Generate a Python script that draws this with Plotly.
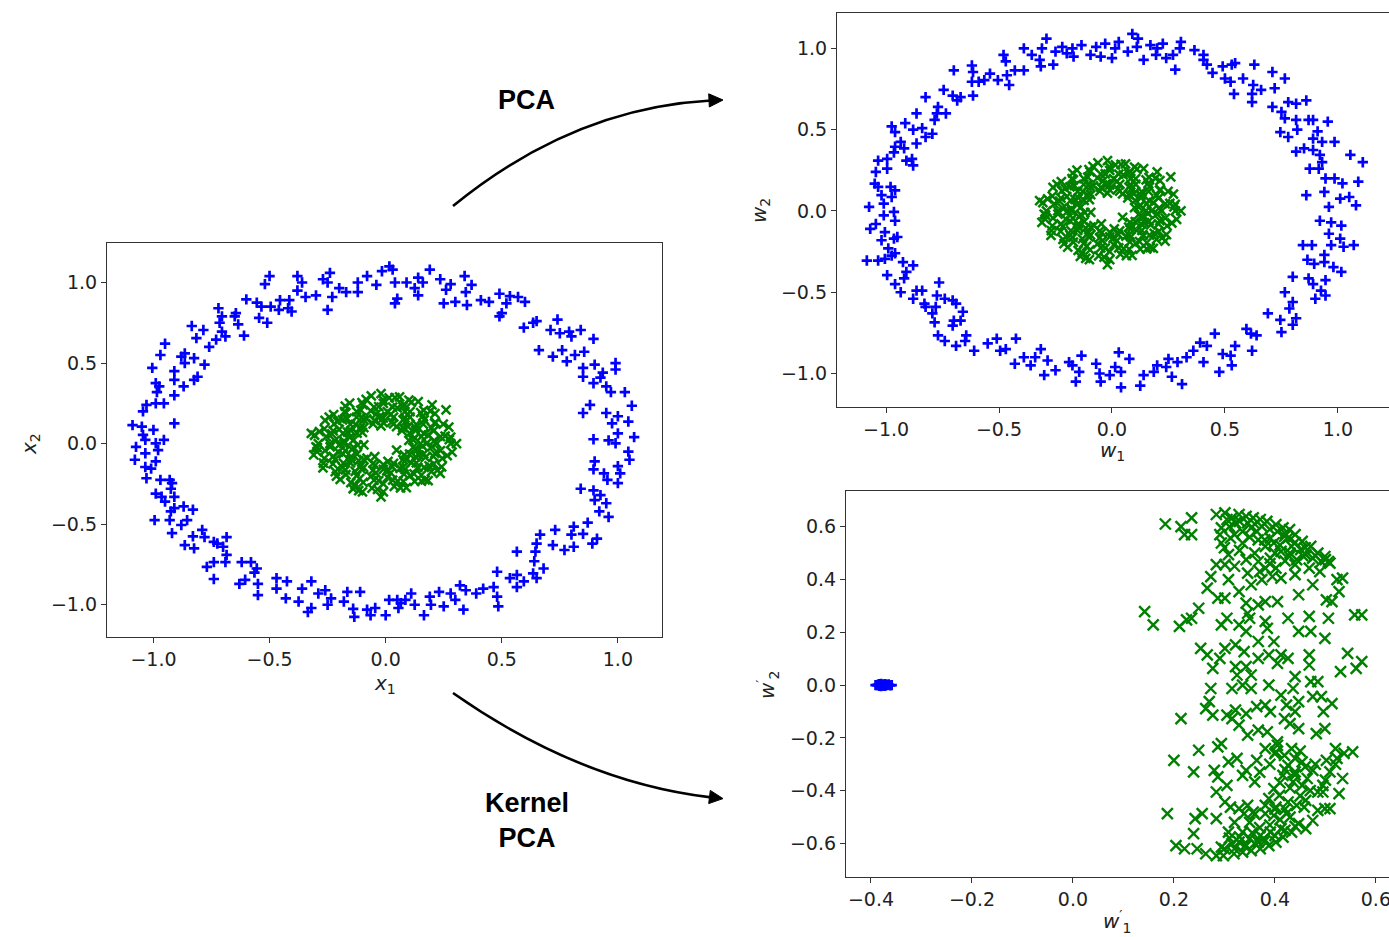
import plotly.graph_objects as go

# ---------------- data ----------------
# Input space: outer circle (blue +)
input_outer = [
(-0.50,1.04),(-0.38,1.04),(-0.52,0.99),(-0.36,1.0),(-0.38,0.95),(-0.27,1.02),(-0.24,1.06),(-0.25,1.0),
(-0.20,0.965),(-0.17,0.94),(-0.345,0.91),(-0.30,0.92),(-0.23,0.91),(-0.25,0.83),(-0.12,1.0),(-0.08,1.04),
(-0.12,0.94),(-0.04,0.985),(-0.016,1.07),(0.016,1.10),(0.03,1.08),(0.04,1.0),(0.05,0.90),(0.04,0.87),
(0.09,1.0),(0.14,1.03),(0.125,0.965),(0.16,1.0),(0.19,1.08),(0.14,0.92),(0.235,1.02),(0.26,0.955),
(0.28,0.99),(0.34,1.04),(0.37,0.985),(0.30,0.88),(0.25,0.87),(0.35,0.86),(0.345,0.94),(0.41,0.89),
(0.445,0.88),(0.49,0.93),(0.535,0.915),(0.57,0.91),(0.52,0.87),(0.49,0.79),(0.50,0.81),(0.60,0.88),
(0.595,0.72),(0.635,0.75),(0.65,0.76),(0.71,0.705),(0.74,0.77),(0.75,0.685),(0.79,0.695),(0.84,0.705),
(0.80,0.665),(0.66,0.58),(0.72,0.54),(0.76,0.58),(0.815,0.55),(0.855,0.57),(0.895,0.65),(0.78,0.51),
(0.85,0.47),(0.85,0.415),(0.90,0.49),(0.935,0.44),(0.99,0.50),(0.99,0.46),(0.925,0.41),(0.895,0.375),
(0.95,0.355),(0.97,0.32),(1.03,0.32),(0.88,0.24),(0.85,0.19),(0.95,0.19),(1.0,0.17),(1.06,0.235),
(1.045,0.137),(0.975,0.126),(1.0,0.064),(0.96,0.02),(0.895,0.027),(0.99,0.002),(1.07,0.04),(1.045,-0.05),
(1.05,-0.10),(0.90,-0.11),(0.895,-0.16),(0.94,-0.185),(1.0,-0.14),(1.01,-0.185),(1.0,-0.245),(0.955,-0.225),
(0.84,-0.28),(0.895,-0.29),(0.925,-0.32),(0.90,-0.35),(0.95,-0.37),(0.96,-0.455),(0.92,-0.42),(0.87,-0.49),
(0.85,-0.56),(0.91,-0.59),(0.89,-0.62),(0.81,-0.515),(0.80,-0.565),(0.81,-0.64),(0.73,-0.535),(0.72,-0.63),
(0.77,-0.66),(0.665,-0.565),(0.65,-0.62),(0.645,-0.67),(0.565,-0.67),(0.64,-0.73),(0.68,-0.775),(0.635,-0.805),
(0.65,-0.835),(0.565,-0.815),(0.535,-0.835),(0.595,-0.855),(0.48,-0.795),(0.565,-0.89),(0.465,-0.89),(0.48,-0.95),
(0.485,-1.01),(0.42,-0.90),(0.39,-0.93),(0.345,-0.91),(0.32,-0.88),(0.30,-0.97),(0.28,-0.93),(0.335,-1.03),
(0.25,-1.01),(0.23,-0.92),(0.19,-0.95),(0.195,-1.0),(0.165,-1.065),(0.125,-1.0),(0.11,-0.93),(0.085,-0.97),
(0.065,-0.99),(0.05,-0.97),(0.015,-0.97),(0.055,-1.02),(0.0,-1.065),(-0.045,-1.02),(-0.08,-1.03),(-0.065,-1.065),
(-0.135,-1.075),(-0.14,-1.025),(-0.11,-0.92),(-0.165,-0.92),(-0.18,-0.98),(-0.235,-0.96),(-0.26,-0.91),(-0.29,-0.93),
(-0.25,-1.0),(-0.32,-1.02),(-0.335,-1.045),(-0.32,-0.855),(-0.36,-0.90),(-0.375,-0.98),(-0.43,-0.96),(-0.47,-0.90),
(-0.425,-0.855),(-0.47,-0.835),(-0.55,-0.94),(-0.55,-0.87),(-0.605,-0.845),(-0.63,-0.87),(-0.565,-0.80),(-0.555,-0.775),
(-0.58,-0.735),(-0.62,-0.735),(-0.69,-0.735),(-0.74,-0.84),(-0.77,-0.765),(-0.74,-0.735),(-0.685,-0.69),(-0.70,-0.64),
(-0.74,-0.61),(-0.78,-0.58),(-0.725,-0.62),(-0.685,-0.58),(-0.79,-0.535),(-0.825,-0.65),(-0.865,-0.63),(-0.83,-0.575),
(-0.92,-0.555),(-0.88,-0.505),(-0.855,-0.475),(-0.83,-0.41),(-0.87,-0.39),(-0.91,-0.40),(-0.93,-0.475),(-0.995,-0.475),
(-0.925,-0.42),(-0.95,-0.36),(-0.965,-0.33),(-0.91,-0.33),(-0.925,-0.28),(-0.99,-0.31),(-0.92,-0.245),(-0.93,-0.225),
(-0.97,-0.225),(-1.03,-0.215),(-1.01,-0.155),(-0.99,-0.11),(-1.035,-0.145),(-1.08,-0.10),(-1.035,-0.06),(-0.98,-0.04),
(-0.955,0.023),(-0.99,0.002),(-1.035,0.023),(-1.045,0.054),(-1.075,-0.02),(-1.05,0.105),(-1.09,0.115),(-1.0,0.085),
(-0.91,0.126),(-1.045,0.20),(-1.03,0.24),(-0.99,0.25),(-0.955,0.25),(-1.005,0.47),(-0.99,0.375),(-0.975,0.355),
(-0.985,0.32),(-0.91,0.45),(-0.91,0.395),(-0.87,0.355),(-0.91,0.30),(-0.865,0.56),(-0.88,0.54),(-0.865,0.50),
(-0.825,0.53),(-0.78,0.49),(-0.825,0.395),(-0.81,0.415),(-0.97,0.55),(-0.95,0.62),(-0.835,0.73),(-0.815,0.655),
(-0.785,0.705),(-0.76,0.60),(-0.73,0.645),(-0.705,0.695),(-0.69,0.665),(-0.715,0.75),(-0.72,0.84),(-0.705,0.79),
(-0.645,0.81),(-0.65,0.79),(-0.635,0.74),(-0.61,0.67),(-0.60,0.895),(-0.555,0.875),(-0.545,0.78),(-0.51,0.75),
(-0.535,0.85),(-0.495,0.85),(-0.455,0.89),(-0.42,0.84),(-0.405,0.82),(-0.46,0.83),(-0.415,0.89),
]

# Input space: inner circle (green x) - dense annulus
input_inner = [
(0.28,0.00),(0.256,0.047),(0.272,0.103),(0.215,0.13),(0.212,0.186),(0.164,0.207),(0.14,0.26),(0.079,0.244),
(0.04,0.286),(-0.01,0.27),(-0.062,0.296),(-0.102,0.254),(-0.155,0.251),(-0.177,0.199),(-0.224,0.18),(-0.261,0.145),
(-0.264,0.092),(-0.306,0.052),(-0.29,0.0),(-0.296,-0.05),(-0.264,-0.092),(-0.27,-0.15),(-0.217,-0.174),(-0.196,-0.222),
(-0.15,-0.242),(-0.116,-0.291),(-0.059,-0.276),(-0.01,-0.30),(0.037,-0.266),(0.089,-0.273),(0.125,-0.234),(0.183,-0.23),
(0.197,-0.174),(0.241,-0.145),(0.244,-0.092),(0.286,-0.052),
(0.209,0.019),(0.183,0.052),(0.198,0.097),(0.162,0.121),(0.16,0.17),(0.105,0.164),(0.083,0.199),(0.05,0.222),
(0.007,0.199),(-0.03,0.229),(-0.064,0.203),(-0.107,0.208),(-0.125,0.164),(-0.166,0.156),(-0.207,0.138),(-0.2,0.089),
(-0.232,0.06),(-0.219,0.018),(-0.239,-0.02),(-0.203,-0.052),(-0.218,-0.097),(-0.182,-0.121),(-0.173,-0.163),(-0.131,-0.172),
(-0.112,-0.217),(-0.064,-0.203),(-0.03,-0.229),(0.008,-0.209),(0.052,-0.232),(0.079,-0.19),(0.122,-0.188),(0.138,-0.148),
(0.187,-0.138),(0.171,-0.085),(0.212,-0.06),(0.199,-0.018),
(0.15,0.0),(0.125,0.036),(0.129,0.08),(0.096,0.106),(0.075,0.147),(0.026,0.135),(-0.01,0.16),(-0.049,0.145),
(-0.095,0.147),(-0.109,0.099),(-0.149,0.08),(-0.155,0.039),(-0.18,0.0),(-0.145,-0.036),(-0.149,-0.08),(-0.116,-0.106),
(-0.095,-0.147),(-0.046,-0.135),(-0.01,-0.16),(0.029,-0.145),(0.075,-0.147),(0.089,-0.099),(0.129,-0.08),(0.135,-0.039),
(0.10,0.02),(0.07,0.08),(-0.02,0.11),(-0.10,0.07),(-0.12,-0.01),(-0.08,-0.09),(0.01,-0.11),(0.08,-0.07),
(-0.094,-0.008),(0.047,-0.04),(-0.047,-0.08),(0.047,0.105),
(0.236,0.044),(0.211,0.128),(0.151,0.192),(0.074,0.23),(-0.01,0.25),(-0.097,0.24),(-0.171,0.192),(-0.222,0.123),
(-0.256,0.044),(-0.261,-0.044),(-0.227,-0.125),(-0.171,-0.192),(-0.097,-0.24),(-0.01,-0.25),(0.076,-0.235),(0.154,-0.195),
(0.207,-0.125),(0.236,-0.044),
(0.175,0.0),(0.164,0.063),(0.132,0.119),(0.083,0.16),(0.022,0.182),(-0.042,0.182),(-0.103,0.16),(-0.152,0.119),
(-0.184,0.063),(-0.195,0.0),(-0.184,-0.063),(-0.152,-0.119),(-0.103,-0.16),(-0.042,-0.182),(0.022,-0.182),(0.083,-0.16),
(0.132,-0.119),(0.164,-0.063),
(0.118,0.023),(0.103,0.065),(0.074,0.10),(0.034,0.122),(-0.01,0.13),(-0.054,0.122),(-0.094,0.10),(-0.123,0.065),
(-0.138,0.023),(-0.138,-0.023),(-0.123,-0.065),(-0.094,-0.10),(-0.054,-0.122),(-0.01,-0.13),(0.034,-0.122),(0.074,-0.10),
(0.103,-0.065),(0.118,-0.023),
(0.22,0.0),(0.206,0.079),(0.166,0.148),(0.105,0.199),(0.03,0.227),(-0.05,0.227),(-0.125,0.199),(-0.186,0.148),
(-0.226,0.079),(-0.24,0.0),(-0.226,-0.079),(-0.186,-0.148),(-0.125,-0.199),(-0.05,-0.227),(0.03,-0.227),(0.105,-0.199),
(0.166,-0.148),(0.206,-0.079),
(0.274,0.025),(0.248,0.121),(0.192,0.201),(0.111,0.258),(0.015,0.284),(-0.084,0.275),(-0.174,0.233),(-0.243,0.164),
(-0.285,0.074),(-0.294,-0.025),(-0.268,-0.121),(-0.212,-0.201),(-0.131,-0.258),(-0.035,-0.284),(0.064,-0.275),(0.154,-0.233),
(0.223,-0.164),(0.265,-0.074),
(0.154,0.044),(0.129,0.098),(0.088,0.139),(0.034,0.164),(-0.025,0.169),(-0.082,0.154),(-0.13,0.12),(-0.164,0.072),
(-0.179,0.015),(-0.174,-0.044),(-0.149,-0.098),(-0.108,-0.139),(-0.054,-0.164),(0.005,-0.169),(0.062,-0.154),(0.11,-0.12),
(0.144,-0.072),(0.159,-0.015),
(-0.32,0.064),(-0.30,-0.02),(-0.31,-0.07),(0.26,0.21),(-0.02,0.31),(0.06,0.29),(-0.02,-0.33),(-0.14,-0.28),
(0.235,-0.185),(0.17,-0.225),(0.305,0.0),(0.28,0.04),(0.10,0.27),(-0.10,-0.30),(0.20,0.24),
]

# PCA projection: outer circle (blue +)
pca_outer = [
(-0.29,1.06),(-0.31,1.0),(-0.39,1.0),(-0.355,0.96),(-0.32,0.93),(-0.315,0.89),(-0.26,0.90),(-0.25,0.98),
(-0.22,1.01),(-0.20,0.97),(-0.17,0.95),(-0.175,1.0),(-0.135,1.02),(-0.095,0.96),(-0.07,1.01),(-0.05,0.95),
(-0.03,1.03),(0.0,0.94),(0.014,1.0),(0.03,1.04),(0.07,0.98),(0.09,1.09),(0.115,1.06),(0.11,1.01),
(0.14,0.93),(0.17,1.02),(0.20,1.0),(0.225,1.03),(0.195,0.96),(0.24,0.94),(0.27,0.96),(0.28,0.87),
(0.305,1.04),(0.30,1.0),(0.365,0.99),(0.405,0.96),(0.42,0.90),(0.405,0.93),(0.445,0.85),(0.49,0.89),
(0.53,0.90),(0.545,0.91),(0.50,0.815),(0.525,0.795),(0.54,0.72),(0.58,0.815),(0.63,0.90),(0.625,0.775),
(0.62,0.72),(0.62,0.67),(0.66,0.745),(0.71,0.855),(0.72,0.755),(0.765,0.815),(0.71,0.64),(0.75,0.61),
(0.78,0.67),(0.815,0.66),(0.86,0.68),(0.745,0.485),(0.78,0.455),(0.765,0.57),(0.82,0.50),(0.815,0.56),
(0.87,0.56),(0.89,0.56),(0.955,0.55),(0.91,0.49),(0.89,0.445),(0.93,0.425),(0.985,0.425),(0.815,0.365),
(0.85,0.385),(0.89,0.375),(0.92,0.345),(0.93,0.30),(1.055,0.345),(1.11,0.30),(0.875,0.26),(0.915,0.26),
(0.945,0.20),(0.985,0.20),(1.02,0.17),(1.09,0.18),(0.86,0.097),(0.94,0.117),(1.01,0.076),(1.05,0.086),
(1.08,0.035),(0.96,0.025),(0.92,-0.06),(0.97,-0.07),(1.015,-0.09),(0.96,-0.14),(1.01,-0.17),(0.845,-0.21),
(0.885,-0.21),(0.97,-0.21),(1.025,-0.22),(1.07,-0.21),(0.865,-0.30),(0.895,-0.325),(0.94,-0.315),(0.98,-0.345),
(1.015,-0.375),(0.94,-0.27),(0.80,-0.405),(0.87,-0.415),(0.89,-0.45),(0.945,-0.425),(0.925,-0.49),(0.945,-0.52),
(0.90,-0.54),(0.765,-0.50),(0.80,-0.56),(0.785,-0.60),(0.815,-0.66),(0.69,-0.63),(0.745,-0.67),(0.80,-0.70),
(0.75,-0.745),(0.595,-0.725),(0.615,-0.755),(0.64,-0.765),(0.62,-0.86),(0.545,-0.83),(0.525,-0.89),(0.49,-0.88),
(0.53,-0.95),(0.475,-0.99),(0.455,-0.755),(0.42,-0.83),(0.39,-0.81),(0.405,-0.93),(0.36,-0.86),(0.33,-0.90),
(0.31,-1.065),(0.29,-0.93),(0.25,-0.91),(0.24,-0.96),(0.265,-1.02),(0.20,-0.95),(0.185,-0.99),(0.14,-1.01),
(0.125,-1.075),(0.077,-0.91),(0.03,-0.87),(0.04,-0.99),(0.04,-1.085),(0.014,-0.96),(-0.01,-1.01),(-0.05,-1.05),
(-0.07,-0.94),(-0.055,-1.0),(-0.135,-0.89),(-0.16,-1.05),(-0.145,-0.99),(-0.175,-0.95),(-0.19,-0.93),(-0.25,-0.98),
(-0.285,-0.92),(-0.30,-1.01),(-0.315,-0.85),(-0.34,-0.90),(-0.39,-0.90),(-0.43,-0.94),(-0.36,-0.95),(-0.425,-0.785),
(-0.47,-0.85),(-0.51,-0.785),(-0.495,-0.86),(-0.55,-0.815),(-0.61,-0.86),(-0.645,-0.765),(-0.69,-0.83),(-0.65,-0.80),
(-0.74,-0.80),(-0.77,-0.765),(-0.705,-0.705),(-0.67,-0.675),(-0.70,-0.675),(-0.66,-0.62),(-0.785,-0.685),(-0.795,-0.63),
(-0.78,-0.59),(-0.825,-0.59),(-0.83,-0.57),(-0.765,-0.44),(-0.775,-0.52),(-0.74,-0.54),(-0.705,-0.55),(-0.69,-0.57),
(-0.88,-0.54),(-0.865,-0.49),(-0.84,-0.49),(-0.935,-0.50),(-0.96,-0.45),(-0.92,-0.415),(-0.91,-0.375),(-0.88,-0.335),
(-0.925,-0.315),(-0.995,-0.395),(-0.975,-0.275),(-1.005,-0.295),(-1.085,-0.305),(-1.035,-0.305),(-0.96,-0.26),(-0.99,-0.23),
(-1.02,-0.18),(-0.965,-0.17),(-0.95,-0.16),(-1.005,-0.13),(-1.07,-0.11),(-1.045,-0.08),(-0.96,-0.06),(-1.01,-0.027),
(-1.075,0.025),(-0.965,-0.006),(-1.01,0.045),(-0.975,0.086),(-1.02,0.097),(-0.96,0.127),(-1.035,0.148),(-0.98,0.148),
(-1.05,0.168),(-1.045,0.24),(-0.995,0.26),(-1.035,0.31),(-0.995,0.32),(-0.88,0.28),(-0.91,0.31),(-0.885,0.32),
(-0.965,0.36),(-0.96,0.395),(-0.935,0.425),(-0.92,0.385),(-0.975,0.52),(-0.96,0.485),(-0.915,0.54),(-0.88,0.50),
(-0.865,0.415),(-0.84,0.51),(-0.795,0.475),(-0.825,0.455),(-0.865,0.60),(-0.785,0.56),(-0.775,0.60),(-0.735,0.60),
(-0.77,0.64),(-0.825,0.70),(-0.745,0.745),(-0.705,0.71),(-0.685,0.68),(-0.67,0.70),(-0.70,0.865),(-0.62,0.895),
(-0.615,0.855),(-0.62,0.795),(-0.615,0.71),(-0.59,0.795),(-0.565,0.805),(-0.54,0.845),(-0.505,0.805),(-0.48,0.96),
(-0.47,0.92),(-0.465,0.835),(-0.455,0.775),(-0.43,0.865),(-0.39,0.865),
]
# PCA projection of the inner circle: a rotation of the same blob
pca_inner = input_inner

# Kernel PCA projection: outer circle collapses to a tight blob (blue +)
kpca_outer = [
(-0.391,0.0),(-0.388,0.0),(-0.386,0.001),(-0.384,0.003),(-0.384,-0.003),(-0.382,-0.001),(-0.380,0.004),(-0.380,-0.004),
(-0.378,0.0),(-0.376,0.002),(-0.376,-0.002),(-0.374,-0.001),(-0.372,0.003),(-0.372,-0.003),(-0.370,0.001),(-0.368,0.0),
(-0.365,0.002),(-0.362,-0.001),(-0.359,0.0),
]
# Kernel PCA projection: inner circle (green x)
kpca_inner = [
(0.183,0.61),(0.214,0.60),(0.235,0.633),(0.221,0.57),(0.235,0.57),(0.284,0.646),(0.301,0.652),(0.315,0.633),
(0.329,0.646),(0.343,0.639),(0.357,0.633),(0.371,0.627),(0.384,0.62),(0.402,0.608),(0.416,0.595),(0.429,0.589),
(0.44,0.57),(0.454,0.544),(0.471,0.525),(0.485,0.50),(0.499,0.487),(0.509,0.462),(0.294,0.595),(0.291,0.57),
(0.294,0.538),(0.312,0.557),(0.336,0.538),(0.336,0.582),(0.364,0.582),(0.367,0.55),(0.381,0.525),(0.398,0.538),
(0.426,0.557),(0.433,0.525),(0.451,0.513),(0.461,0.494),(0.443,0.475),(0.475,0.481),(0.492,0.468),(0.391,0.481),
(0.367,0.468),(0.343,0.475),(0.308,0.494),(0.284,0.456),(0.301,0.456),(0.346,0.424),(0.381,0.443),(0.402,0.443),
(0.44,0.456),(0.273,0.411),(0.308,0.399),(0.266,0.367),(0.287,0.329),(0.301,0.329),(0.329,0.354),(0.353,0.38),
(0.374,0.399),(0.395,0.411),(0.412,0.405),(0.44,0.418),(0.475,0.38),(0.447,0.342),(0.523,0.399),(0.527,0.354),
(0.534,0.405),(0.513,0.316),(0.502,0.323),(0.343,0.31),(0.367,0.304),(0.381,0.316),(0.405,0.316),(0.426,0.253),
(0.346,0.272),(0.35,0.253),(0.381,0.241),(0.506,0.253),(0.468,0.26),(0.447,0.203),(0.471,0.203),(0.499,0.177),
(0.558,0.266),(0.572,0.266),(0.142,0.278),(0.159,0.228),(0.211,0.222),(0.225,0.247),(0.235,0.253),(0.249,0.291),
(0.294,0.228),(0.305,0.253),(0.329,0.228),(0.343,0.203),(0.367,0.165),(0.398,0.165),(0.385,0.215),(0.253,0.139),
(0.266,0.114),(0.277,0.063),(0.301,0.139),(0.291,0.101),(0.322,0.152),(0.339,0.127),(0.322,0.07),(0.343,0.07),
(0.325,0.038),(0.353,0.038),(0.367,0.101),(0.388,0.114),(0.412,0.114),(0.426,0.101),(0.405,0.082),(0.44,0.032),
(0.468,0.114),(0.468,0.076),(0.471,0.013),(0.436,-0.013),(0.485,0.013),(0.544,0.12),(0.572,0.089),(0.561,0.063),
(0.53,0.051),(0.513,-0.07),(0.492,-0.044),(0.475,-0.044),(0.447,-0.063),(0.423,-0.076),(0.44,-0.101),(0.419,-0.127),
(0.447,-0.165),(0.43,-0.146),(0.391,-0.101),(0.381,-0.076),(0.364,-0.082),(0.343,-0.108),(0.322,-0.095),(0.305,-0.114),
(0.315,-0.127),(0.329,-0.152),(0.346,-0.19),(0.367,-0.171),(0.385,-0.177),(0.405,-0.215),(0.273,-0.013),(0.27,-0.063),
(0.263,-0.089),(0.277,-0.114),(0.214,-0.127),(0.336,0.0),(0.315,-0.013),(0.353,-0.013),(0.388,0.0),(0.412,-0.038),
(0.499,-0.165),(0.482,-0.184),(0.496,-0.101),(0.294,-0.222),(0.287,-0.234),(0.249,-0.247),(0.2,-0.285),(0.239,-0.329),
(0.28,-0.323),(0.287,-0.348),(0.284,-0.405),(0.305,-0.38),(0.308,-0.291),(0.325,-0.278),(0.343,-0.323),(0.336,-0.342),
(0.36,-0.367),(0.364,-0.285),(0.381,-0.241),(0.405,-0.228),(0.402,-0.253),(0.419,-0.266),(0.433,-0.241),(0.44,-0.278),
(0.454,-0.291),(0.426,-0.304),(0.416,-0.342),(0.44,-0.329),(0.464,-0.354),(0.436,-0.367),(0.454,-0.38),(0.475,-0.323),
(0.502,-0.285),(0.523,-0.278),(0.52,-0.241),(0.537,-0.259),(0.554,-0.253),(0.509,-0.329),(0.534,-0.354),(0.495,-0.38),
(0.485,-0.405),(0.495,-0.405),(0.527,-0.411),(0.398,-0.392),(0.409,-0.418),(0.388,-0.43),(0.381,-0.456),(0.402,-0.462),
(0.426,-0.443),(0.461,-0.437),(0.443,-0.456),(0.301,-0.443),(0.312,-0.462),(0.329,-0.468),(0.346,-0.456),(0.357,-0.481),
(0.339,-0.487),(0.381,-0.487),(0.398,-0.494),(0.423,-0.487),(0.458,-0.462),(0.485,-0.475),(0.499,-0.468),(0.509,-0.468),
(0.475,-0.513),(0.447,-0.525),(0.461,-0.544),(0.433,-0.557),(0.416,-0.576),(0.402,-0.595),(0.388,-0.608),(0.371,-0.62),
(0.353,-0.627),(0.336,-0.633),(0.319,-0.639),(0.298,-0.646),(0.284,-0.646),(0.263,-0.639),(0.246,-0.62),(0.221,-0.62),
(0.204,-0.608),(0.239,-0.563),(0.242,-0.506),(0.256,-0.487),(0.284,-0.506),(0.187,-0.487),(0.308,-0.557),(0.336,-0.557),
(0.35,-0.582),(0.371,-0.57),(0.391,-0.557),(0.329,-0.595),(0.367,-0.595),(0.412,-0.544),(0.294,-0.614),(0.315,-0.601),
(0.343,-0.608),(0.378,-0.582),(0.346,0.614),(0.374,0.601),(0.405,0.582),(0.419,0.563),(0.353,0.595),(0.391,0.557),
(0.412,0.506),(0.429,0.487),(0.468,0.443),(0.489,0.43),(0.506,0.468),(0.322,0.614),(0.305,0.627),
(0.31,0.60),(0.33,0.62),(0.36,0.61),(0.39,0.59),(0.42,0.575),(0.44,0.54),(0.46,0.52),(0.48,0.49),
(0.32,0.57),(0.35,0.56),(0.38,0.55),(0.41,0.53),(0.43,0.50),(0.455,0.49),(0.50,0.475),(0.30,0.52),
(0.33,0.51),(0.36,0.50),(0.40,0.50),(0.42,0.47),(0.39,0.46),(0.37,0.43),(0.32,0.45),
(0.30,-0.62),(0.32,-0.62),(0.34,-0.61),(0.36,-0.60),(0.38,-0.59),(0.40,-0.57),(0.42,-0.55),(0.44,-0.535),
(0.31,-0.58),(0.33,-0.575),(0.355,-0.56),(0.37,-0.54),(0.39,-0.53),(0.41,-0.51),(0.43,-0.50),(0.35,-0.52),
(0.32,-0.52),(0.36,-0.49),(0.40,-0.47),(0.42,-0.47),
(0.42,-0.32),(0.44,-0.34),(0.46,-0.31),(0.48,-0.30),(0.43,-0.39),(0.47,-0.40),(0.45,-0.42),(0.41,-0.37),
(0.39,-0.30),(0.37,-0.33),(0.50,-0.36),(0.52,-0.30),(0.40,-0.26),(0.45,-0.25),
]

circle_ticks = [-1.0, -0.5, 0.0, 0.5, 1.0]
kpca_xticks = [-0.4, -0.2, 0.0, 0.2, 0.4, 0.6]
kpca_yticks = [-0.6, -0.4, -0.2, 0.0, 0.2, 0.4, 0.6]

# ---------------- figure ----------------
W, H = 1389, 937
def px(x):
    return x / W
def py(y):
    return 1 - y / H

BLUE = "#0000ff"
GREEN = "#008000"

def xs(pts):
    return [p[0] for p in pts]
def ys(pts):
    return [p[1] for p in pts]

plus = dict(symbol="cross-thin", size=7.4, color=BLUE, line=dict(width=2.7, color=BLUE))
cross = dict(symbol="x-thin", size=9, color=GREEN, line=dict(width=2.5, color=GREEN))
cross_big = dict(symbol="x-thin", size=11, color=GREEN, line=dict(width=2.4, color=GREEN))

fig = go.Figure()
fig.add_trace(go.Scatter(x=xs(input_outer), y=ys(input_outer), mode="markers", marker=plus, xaxis="x", yaxis="y"))
fig.add_trace(go.Scatter(x=xs(input_inner), y=ys(input_inner), mode="markers", marker=cross, xaxis="x", yaxis="y"))
fig.add_trace(go.Scatter(x=xs(pca_outer), y=ys(pca_outer), mode="markers", marker=plus, xaxis="x2", yaxis="y2"))
fig.add_trace(go.Scatter(x=xs(pca_inner), y=ys(pca_inner), mode="markers", marker=cross, xaxis="x2", yaxis="y2"))
fig.add_trace(go.Scatter(x=xs(kpca_outer), y=ys(kpca_outer), mode="markers", marker=plus, xaxis="x3", yaxis="y3"))
fig.add_trace(go.Scatter(x=xs(kpca_inner), y=ys(kpca_inner), mode="markers", marker=cross_big, xaxis="x3", yaxis="y3"))

tickfont = dict(family="DejaVu Sans", size=19, color="#222222")
def ax(domain, rng, ticks, anchor):
    return dict(domain=domain, range=rng, tickvals=ticks, tickformat=".1f", anchor=anchor,
                showline=True, mirror=True, linecolor="#333333", linewidth=1.2,
                ticks="outside", ticklen=5, tickwidth=1.2, tickcolor="#333333",
                showgrid=False, zeroline=False, tickfont=tickfont, automargin=False,
                fixedrange=True, ticklabeloverflow="allow")

fig.update_layout(
    width=W, height=H, margin=dict(l=0, r=0, t=0, b=0),
    paper_bgcolor="white", plot_bgcolor="white", showlegend=False,
    xaxis=ax([px(107), px(662)], [-1.2, 1.19], circle_ticks, "y"),
    yaxis=ax([py(637), py(243)], [-1.2, 1.245], circle_ticks, "x"),
    xaxis2=ax([px(837), 1.0], [-1.217, 1.226], circle_ticks, "y2"),
    yaxis2=ax([py(407), py(13)], [-1.206, 1.218], circle_ticks, "x2"),
    xaxis3=ax([px(846), 1.0], [-0.4495, 0.626], kpca_xticks, "y3"),
    yaxis3=ax([py(877), py(491)], [-0.727, 0.735], kpca_yticks, "x3"),
)

titlefont = dict(family="DejaVu Sans", size=20, color="#222222")
labels = [
    ("<i>x</i><sub>1</sub>", 385, 684, 0),
    ("<i>x</i><sub>2</sub>", 30, 444, -90),
    ("<i>w</i><sub>1</sub>", 1112, 451, 0),
    ("<i>w</i><sub>2</sub>", 760, 211, -90),
    ("<i>w</i><sup>′</sup><sub>1</sub>", 1117, 921, 0),
    ("<i>w</i><sup>′</sup><sub>2</sub>", 767, 685, -90),
]
for txt, x, y, ang in labels:
    fig.add_annotation(text=txt, x=px(x), y=py(y), xref="paper", yref="paper", showarrow=False,
                       textangle=ang, font=titlefont, xanchor="center", yanchor="middle")

boldfont = dict(family="Liberation Sans", size=27, color="black")
fig.add_annotation(text="<b>PCA</b>", x=px(526), y=py(100), xref="paper", yref="paper",
                   showarrow=False, font=boldfont, xanchor="center", yanchor="middle")
fig.add_annotation(text="<b>Kernel</b><br><b>PCA</b>", x=px(527), y=py(820), xref="paper", yref="paper",
                   showarrow=False, font=boldfont, xanchor="center", yanchor="middle", align="center")

# curved arrows
def pt(x, y):
    return f"{px(x)},{py(y)}"
fig.add_shape(type="path", xref="paper", yref="paper",
              path=f"M {pt(453,206)} Q {pt(573,108)} {pt(711,100.5)}",
              line=dict(color="black", width=2.6))
fig.add_shape(type="path", xref="paper", yref="paper",
              path=f"M {pt(723,100)} L {pt(708.7,93.8)} L {pt(709.3,107.0)} Z",
              line=dict(color="black", width=1), fillcolor="black")
fig.add_shape(type="path", xref="paper", yref="paper",
              path=f"M {pt(453,693)} Q {pt(580,782)} {pt(711,797.4)}",
              line=dict(color="black", width=2.6))
fig.add_shape(type="path", xref="paper", yref="paper",
              path=f"M {pt(723,798.6)} L {pt(710.3,790.4)} L {pt(708.7,803.6)} Z",
              line=dict(color="black", width=1), fillcolor="black")

fig.write_html("out.html")
